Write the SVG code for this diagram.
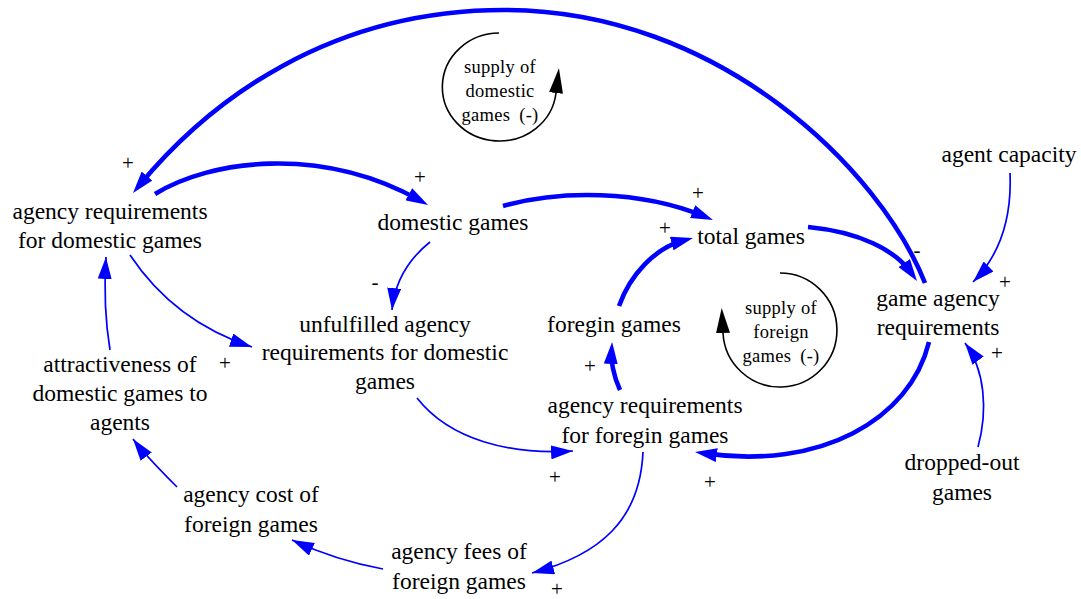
<svg xmlns="http://www.w3.org/2000/svg" width="1081" height="599" viewBox="0 0 1081 599">
  <style>
    text { font-family: "Liberation Serif", "DejaVu Serif", serif; fill: #000; text-anchor: middle; }
    .node { font-size: 23.5px; }
    .loop { font-size: 18.5px; letter-spacing: 0.3px; }
    .pol { font-size: 21px; }
    .thick { fill: none; stroke: #0000ff; stroke-width: 4.6; marker-end: url(#headThick); }
    .thin { fill: none; stroke: #0000ff; stroke-width: 1.7; marker-end: url(#headThin); }
    .loopArc { fill: none; stroke: #000; stroke-width: 1.6; marker-end: url(#headLoop); }
  </style>
  <defs>
    <marker id="headThick" markerUnits="userSpaceOnUse" markerWidth="22" markerHeight="14" refX="12" refY="7" orient="auto">
      <path d="M0,0 L22,7 L0,14 z" fill="#0000ff"/>
    </marker>
    <marker id="headThin" markerUnits="userSpaceOnUse" markerWidth="22" markerHeight="14" refX="22" refY="7" orient="auto">
      <path d="M0,0 L22,7 L0,14 z" fill="#0000ff"/>
    </marker>
    <marker id="headLoop" markerUnits="userSpaceOnUse" markerWidth="25" markerHeight="14" refX="0" refY="7" orient="auto">
      <path d="M0,0 L25,7 L0,14 z" fill="#000"/>
    </marker>
  </defs>

  <rect width="1081" height="599" fill="#fff"/>

  <!-- causal links -->
  <g id="connectors">
    <path class="thick" d="M155,194 C210,160 320,145 419.3,200.1"/>
    <path class="thick" d="M503,206 C560,190 640,190 703.7,216.2"/>
    <path class="thick" d="M619,306 C630,275 655,248 683.3,240.5"/>
    <path class="thick" d="M808,227 C860,232 895,250 911.2,272.8"/>
    <path class="thick" d="M925,283 C880,170 720,10 504,10 C330,10 210,100 139.4,185.3"/>
    <path class="thick" d="M929,342 C910,420 820,470 704.9,453.4"/>
    <path class="thick" d="M620,390 C613,375 611,360 611.5,352"/>
    <path class="thin" d="M1010,173 C1012,220 1000,255 973,282"/>
    <path class="thin" d="M978,447 C988,410 985,370 965,343"/>
    <path class="thin" d="M130,255 C160,300 200,330 252,347"/>
    <path class="thin" d="M430,242 C410,258 395,280 392,310"/>
    <path class="thin" d="M417,398 C450,440 510,455 573,451"/>
    <path class="thin" d="M110,350 C105,320 104,290 106,257"/>
    <path class="thin" d="M177,487 C160,470 145,455 133,439"/>
    <path class="thin" d="M383,569 C350,563 320,553 292,540"/>
    <path class="thin" d="M643,452 C640,520 600,555 532,573"/>
  </g>

  <!-- link polarities -->
  <g id="polarities">
    <text class="pol" x="128" y="170">+</text>
    <text class="pol" x="420" y="184">+</text>
    <text class="pol" x="698" y="200">+</text>
    <text class="pol" x="665" y="235">+</text>
    <text class="pol" x="917" y="257">-</text>
    <text class="pol" x="1005" y="289">+</text>
    <text class="pol" x="997" y="360">+</text>
    <text class="pol" x="375" y="289">-</text>
    <text class="pol" x="225" y="370">+</text>
    <text class="pol" x="590" y="373">+</text>
    <text class="pol" x="555" y="484">+</text>
    <text class="pol" x="710" y="489">+</text>
    <text class="pol" x="557" y="596" font-size="19">+</text>
  </g>

  <!-- balancing loops -->
  <g id="loop-domestic">
    <path class="loopArc" d="M499,33 A57,54 0 1 0 556,93"/>
    <text class="loop" x="500" y="73">supply of</text>
    <text class="loop" x="500" y="97">domestic</text>
    <text class="loop" x="500" y="121">games<tspan dx="9">(-)</tspan></text>
  </g>
  <g id="loop-foreign">
    <path class="loopArc" d="M780,273 A57,57 0 1 1 723,333"/>
    <text class="loop" x="781" y="314">supply of</text>
    <text class="loop" x="781" y="338">foreign</text>
    <text class="loop" x="781" y="362">games<tspan dx="9">(-)</tspan></text>
  </g>

  <!-- variables -->
  <g id="agency-requirements-domestic">
    <text class="node" x="110" y="219">agency requirements</text>
    <text class="node" x="110" y="248">for domestic games</text>
  </g>
  <g id="domestic-games">
    <text class="node" x="453" y="230">domestic games</text>
  </g>
  <g id="total-games">
    <text class="node" x="751" y="244">total games</text>
  </g>
  <g id="unfulfilled-requirements">
    <text class="node" x="385" y="332">unfulfilled agency</text>
    <text class="node" x="385" y="360">requirements for domestic</text>
    <text class="node" x="385" y="389">games</text>
  </g>
  <g id="foregin-games">
    <text class="node" x="614" y="332">foregin games</text>
  </g>
  <g id="agency-requirements-foregin">
    <text class="node" x="645" y="413">agency requirements</text>
    <text class="node" x="645" y="443">for foregin games</text>
  </g>
  <g id="game-agency-requirements">
    <text class="node" x="938" y="306">game agency</text>
    <text class="node" x="938" y="335">requirements</text>
  </g>
  <g id="agent-capacity">
    <text class="node" x="1009" y="162">agent capacity</text>
  </g>
  <g id="dropped-out-games">
    <text class="node" x="962" y="470">dropped-out</text>
    <text class="node" x="962" y="500">games</text>
  </g>
  <g id="attractiveness">
    <text class="node" x="120" y="372">attractiveness of</text>
    <text class="node" x="120" y="401">domestic games to</text>
    <text class="node" x="120" y="430">agents</text>
  </g>
  <g id="agency-cost">
    <text class="node" x="251" y="502">agency cost of</text>
    <text class="node" x="251" y="532">foreign games</text>
  </g>
  <g id="agency-fees">
    <text class="node" x="459" y="559">agency fees of</text>
    <text class="node" x="459" y="589">foreign games</text>
  </g>
</svg>
